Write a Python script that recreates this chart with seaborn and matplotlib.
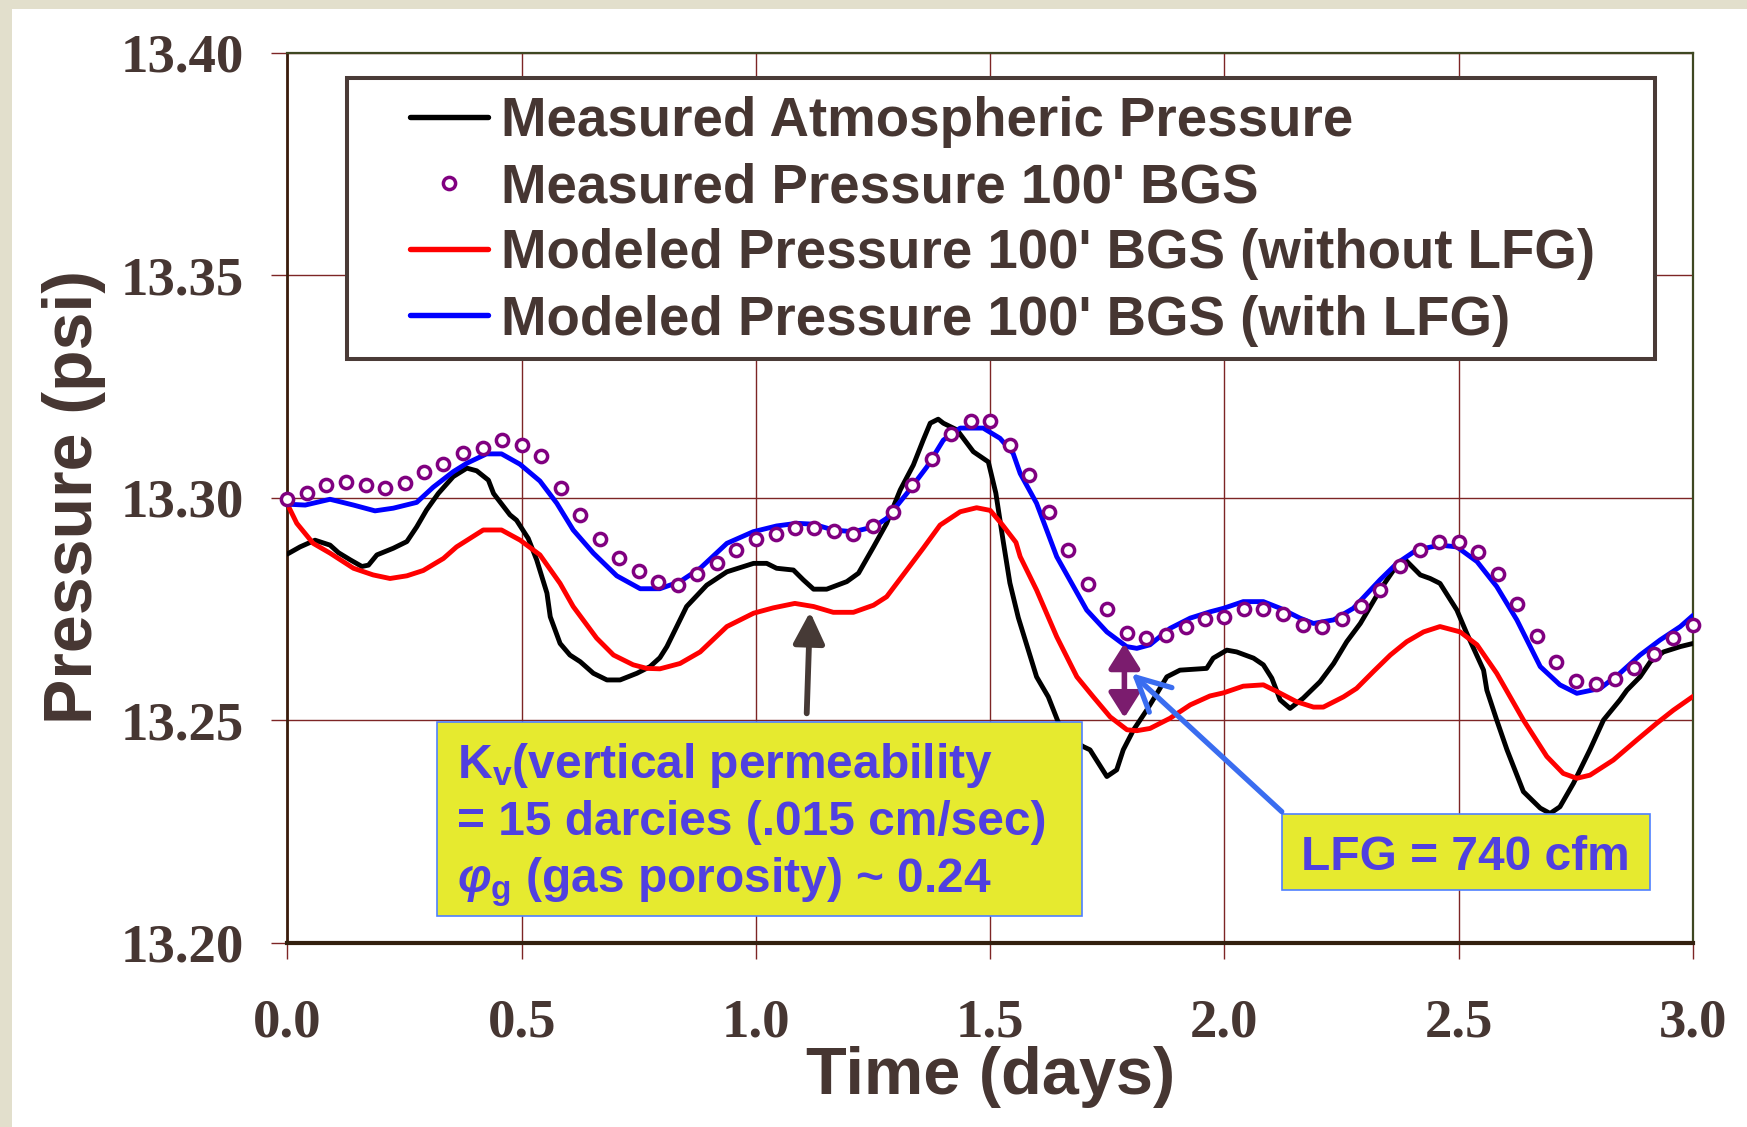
import matplotlib
matplotlib.use("Agg")
import matplotlib.pyplot as plt
import seaborn as sns
import numpy as np
import pandas as pd
from matplotlib.patches import Rectangle, FancyArrowPatch
from matplotlib.ticker import FormatStrFormatter

# ---------------- data ----------------
atm_t = [0.000, 0.027, 0.059, 0.091, 0.109, 0.134, 0.159, 0.173, 0.191, 0.226, 0.255, 0.276,
         0.297, 0.322, 0.354, 0.383, 0.404, 0.429, 0.440, 0.475, 0.489, 0.514, 0.532, 0.554,
         0.561, 0.582, 0.603, 0.625, 0.653, 0.682, 0.710, 0.746, 0.774, 0.795, 0.810, 0.852,
         0.895, 0.938, 0.995, 1.023, 1.044, 1.080, 1.101, 1.123, 1.151, 1.194, 1.219, 1.251,
         1.279, 1.308, 1.336, 1.357, 1.372, 1.389, 1.400, 1.429, 1.464, 1.496, 1.512, 1.528,
         1.542, 1.560, 1.599, 1.624, 1.646, 1.675, 1.699, 1.713, 1.749, 1.770, 1.784, 1.806,
         1.834, 1.856, 1.877, 1.905, 1.962, 1.976, 2.005, 2.026, 2.062, 2.083, 2.101, 2.119,
         2.140, 2.168, 2.204, 2.233, 2.261, 2.290, 2.332, 2.361, 2.386, 2.418, 2.439, 2.460,
         2.496, 2.517, 2.553, 2.560, 2.581, 2.603, 2.638, 2.674, 2.695, 2.716, 2.745, 2.780,
         2.809, 2.844, 2.859, 2.887, 2.909, 2.937, 2.973, 3.000]
atm_p = [13.2873, 13.2889, 13.2904, 13.2893, 13.2876, 13.2860, 13.2845, 13.2848, 13.2871, 13.2886, 13.2901, 13.2934,
         13.2972, 13.3009, 13.3047, 13.3066, 13.3060, 13.3039, 13.3009, 13.2961, 13.2949, 13.2908, 13.2860, 13.2785,
         13.2732, 13.2672, 13.2646, 13.2631, 13.2605, 13.2590, 13.2590, 13.2605, 13.2620, 13.2640, 13.2665, 13.2755,
         13.2803, 13.2833, 13.2852, 13.2852, 13.2841, 13.2837, 13.2815, 13.2794, 13.2794, 13.2811, 13.2830, 13.2889,
         13.2942, 13.3017, 13.3073, 13.3129, 13.3167, 13.3176, 13.3167, 13.3152, 13.3103, 13.3080, 13.3010, 13.2900,
         13.2808, 13.2730, 13.2597, 13.2552, 13.2493, 13.2455, 13.2440, 13.2433, 13.2373, 13.2388, 13.2433, 13.2478,
         13.2522, 13.2560, 13.2597, 13.2612, 13.2616, 13.2639, 13.2657, 13.2653, 13.2639, 13.2624, 13.2594, 13.2545,
         13.2526, 13.2549, 13.2586, 13.2627, 13.2676, 13.2717, 13.2792, 13.2837, 13.2860, 13.2826, 13.2818, 13.2807,
         13.2747, 13.2695, 13.2612, 13.2567, 13.2500, 13.2433, 13.2339, 13.2302, 13.2290, 13.2305, 13.2358, 13.2433,
         13.2500, 13.2545, 13.2567, 13.2597, 13.2631, 13.2653, 13.2665, 13.2672]

bgs_t = [0.000, 0.042, 0.083, 0.125, 0.167, 0.208, 0.250, 0.292, 0.333, 0.375, 0.417, 0.458,
         0.500, 0.542, 0.583, 0.625, 0.667, 0.708, 0.750, 0.792, 0.833, 0.875, 0.917, 0.958,
         1.000, 1.042, 1.083, 1.125, 1.167, 1.208, 1.250, 1.292, 1.333, 1.375, 1.417, 1.458,
         1.500, 1.542, 1.583, 1.625, 1.667, 1.708, 1.750, 1.792, 1.833, 1.875, 1.917, 1.958,
         2.000, 2.042, 2.083, 2.125, 2.167, 2.208, 2.250, 2.292, 2.333, 2.375, 2.417, 2.458,
         2.500, 2.542, 2.583, 2.625, 2.667, 2.708, 2.750, 2.792, 2.833, 2.875, 2.917, 2.958, 3.000]
bgs_p = [13.2997, 13.3009, 13.3027, 13.3034, 13.3027, 13.3021, 13.3033, 13.3058, 13.3075, 13.3099, 13.3112, 13.3129,
         13.3117, 13.3094, 13.3021, 13.2961, 13.2907, 13.2865, 13.2834, 13.2810, 13.2804, 13.2828, 13.2853, 13.2882,
         13.2907, 13.2919, 13.2931, 13.2931, 13.2925, 13.2919, 13.2937, 13.2967, 13.3027, 13.3087, 13.3142, 13.3173,
         13.3173, 13.3119, 13.3051, 13.2967, 13.2882, 13.2805, 13.2749, 13.2696, 13.2684, 13.2690, 13.2708, 13.2726,
         13.2731, 13.2749, 13.2749, 13.2738, 13.2713, 13.2708, 13.2726, 13.2756, 13.2792, 13.2846, 13.2882, 13.2901,
         13.2901, 13.2877, 13.2828, 13.2761, 13.2689, 13.2630, 13.2588, 13.2581, 13.2592, 13.2617, 13.2648, 13.2684, 13.2713]

nolfg_t = [0.000, 0.020, 0.055, 0.091, 0.141, 0.183, 0.219, 0.255, 0.290, 0.333, 0.361, 0.397,
           0.418, 0.457, 0.497, 0.539, 0.582, 0.610, 0.660, 0.696, 0.738, 0.767, 0.795, 0.838,
           0.881, 0.938, 0.995, 1.037, 1.083, 1.123, 1.165, 1.208, 1.251, 1.279, 1.322, 1.357,
           1.393, 1.436, 1.471, 1.500, 1.525, 1.555, 1.564, 1.599, 1.642, 1.685, 1.720, 1.756,
           1.792, 1.813, 1.841, 1.884, 1.927, 1.969, 1.998, 2.040, 2.083, 2.112, 2.154, 2.190,
           2.211, 2.254, 2.282, 2.318, 2.354, 2.389, 2.425, 2.460, 2.503, 2.539, 2.581, 2.638,
           2.688, 2.723, 2.752, 2.780, 2.830, 2.880, 2.923, 2.958, 3.000]
nolfg_p = [13.2985, 13.2942, 13.2897, 13.2875, 13.2841, 13.2826, 13.2818, 13.2824, 13.2836, 13.2863, 13.2889, 13.2913,
           13.2927, 13.2927, 13.2904, 13.2871, 13.2807, 13.2755, 13.2684, 13.2646, 13.2624, 13.2616, 13.2615, 13.2627,
           13.2653, 13.2710, 13.2740, 13.2752, 13.2762, 13.2755, 13.2742, 13.2742, 13.2758, 13.2777, 13.2837, 13.2886,
           13.2938, 13.2968, 13.2977, 13.2971, 13.2940, 13.2899, 13.2867, 13.2792, 13.2687, 13.2597, 13.2552, 13.2507,
           13.2478, 13.2476, 13.2481, 13.2504, 13.2534, 13.2554, 13.2561, 13.2576, 13.2579, 13.2564, 13.2541, 13.2529,
           13.2529, 13.2552, 13.2571, 13.2609, 13.2646, 13.2676, 13.2698, 13.2710, 13.2698, 13.2669, 13.2605, 13.2500,
           13.2418, 13.2380, 13.2369, 13.2376, 13.2410, 13.2455, 13.2493, 13.2522, 13.2553]

lfg_t = [0.000, 0.038, 0.091, 0.141, 0.187, 0.226, 0.276, 0.311, 0.354, 0.383, 0.425, 0.457,
         0.496, 0.539, 0.575, 0.610, 0.653, 0.703, 0.753, 0.795, 0.838, 0.881, 0.938, 0.994,
         1.044, 1.087, 1.123, 1.165, 1.208, 1.251, 1.279, 1.322, 1.365, 1.400, 1.436, 1.485,
         1.521, 1.549, 1.564, 1.599, 1.642, 1.706, 1.749, 1.791, 1.813, 1.841, 1.884, 1.927,
         1.969, 1.998, 2.040, 2.083, 2.119, 2.161, 2.190, 2.233, 2.275, 2.332, 2.368, 2.410,
         2.460, 2.496, 2.539, 2.581, 2.624, 2.674, 2.716, 2.752, 2.802, 2.844, 2.887, 2.930,
         2.973, 3.000]
lfg_p = [13.2985, 13.2983, 13.2996, 13.2983, 13.2970, 13.2976, 13.2989, 13.3023, 13.3058, 13.3077, 13.3098, 13.3098,
         13.3075, 13.3037, 13.2987, 13.2927, 13.2875, 13.2824, 13.2795, 13.2795, 13.2811, 13.2841, 13.2897, 13.2923,
         13.2936, 13.2942, 13.2940, 13.2927, 13.2923, 13.2934, 13.2953, 13.3009, 13.3069, 13.3129, 13.3156, 13.3156,
         13.3133, 13.3099, 13.3054, 13.2987, 13.2867, 13.2747, 13.2698, 13.2665, 13.2661, 13.2669, 13.2706, 13.2729,
         13.2743, 13.2751, 13.2766, 13.2766, 13.2751, 13.2729, 13.2717, 13.2725, 13.2751, 13.2815, 13.2852, 13.2882,
         13.2893, 13.2889, 13.2856, 13.2800, 13.2725, 13.2620, 13.2579, 13.2560, 13.2571, 13.2605, 13.2646, 13.2680,
         13.2710, 13.2735]

series_labels = ["Measured Atmospheric Pressure",
                 "Measured Pressure 100' BGS",
                 "Modeled Pressure 100' BGS (without LFG)",
                 "Modeled Pressure 100' BGS (with LFG)"]
x_ticks = [0.0, 0.5, 1.0, 1.5, 2.0, 2.5, 3.0]
y_ticks = [13.20, 13.25, 13.30, 13.35, 13.40]
x_label = "Time (days)"
y_label = "Pressure (psi)"
note_kv = ["K$_\\mathregular{v}$(vertical permeability",
           "= 15 darcies (.015 cm/sec)",
           "$\\varphi_\\mathregular{g}$ (gas porosity) ~ 0.24"]
note_lfg = "LFG = 740 cfm"

# ---------------- style ----------------
sns.set_theme(style="white")
plt.rcParams["font.family"] = ["Liberation Sans", "DejaVu Sans"]
plt.rcParams["mathtext.fontset"] = "custom"
plt.rcParams["mathtext.rm"] = "Liberation Sans:bold"
plt.rcParams["mathtext.it"] = "Liberation Sans:italic:bold"
plt.rcParams["mathtext.bf"] = "Liberation Sans:bold"

W, H = 1747, 1127
TXT = "#463632"
fig = plt.figure(figsize=(W / 100, H / 100), dpi=100, facecolor="#e2dfcc")
fig.add_artist(Rectangle((12 / W, 0), 1, 1 - 9 / H, transform=fig.transFigure,
                         facecolor="white", edgecolor="none", zorder=-10))

ax = fig.add_axes([287.4 / W, (H - 942.5) / H, 1405.6 / W, 890 / H])
ax.set_facecolor("white")

LW = 3.5
sns.lineplot(x=atm_t, y=atm_p, ax=ax, color="black", lw=LW, label=series_labels[0], zorder=3)
sns.lineplot(x=bgs_t, y=bgs_p, ax=ax, color="#800080", marker="o", ls="none", ms=8.8,
             mfc="white", mec="#800080", mew=2.5, label=series_labels[1], zorder=6, clip_on=False)
sns.lineplot(x=nolfg_t, y=nolfg_p, ax=ax, color="#ff0000", lw=LW, label=series_labels[2], zorder=3)
sns.lineplot(x=lfg_t, y=lfg_p, ax=ax, color="#0000ff", lw=LW, label=series_labels[3], zorder=4)

ax.set_xlim(0, 3)
ax.set_ylim(13.2, 13.4)
ax.set_xticks(x_ticks)
ax.set_yticks(y_ticks)
ax.xaxis.set_major_formatter(FormatStrFormatter("%.1f"))
ax.yaxis.set_major_formatter(FormatStrFormatter("%.2f"))
ax.set_axisbelow(True)
ax.grid(True, color="#7d2525", lw=1.0)
ax.tick_params(axis="both", which="major", bottom=True, left=True, direction="out",
               length=11.5, width=1.0, color="#7d2525", labelcolor=TXT)
ax.tick_params(axis="x", pad=29)
ax.tick_params(axis="y", pad=20)
for lab in ax.get_xticklabels() + ax.get_yticklabels():
    lab.set_fontfamily("Liberation Serif")
    lab.set_fontweight("bold")
    lab.set_fontsize(39.5)

for side in ["top", "right"]:
    ax.spines[side].set_color("#3f4822")
    ax.spines[side].set_linewidth(1.6)
ax.spines["left"].set_color("#3a1c0c")
ax.spines["left"].set_linewidth(2.0)
ax.spines["bottom"].set_color("#33200f")
ax.spines["bottom"].set_linewidth(3.0)

ax.set_xlabel(x_label, fontsize=48, fontweight="bold", color=TXT)
ax.set_ylabel(y_label, fontsize=49, fontweight="bold", color=TXT)
ax.xaxis.set_label_coords(0.5, (942.5 - 1094) / 890)
ax.xaxis.label.set_va("baseline")
ax.yaxis.set_label_coords((74 - 287.4) / 1405.6, 0.5)
ax.yaxis.label.set_va("center")

# legend frame + legend
ax.add_patch(Rectangle((346.5 / W, 1 - 358.7 / H), (1655 - 346.5) / W, (358.7 - 78) / H,
                       transform=fig.transFigure, facecolor="white", edgecolor="#4a3b37",
                       lw=2.9, zorder=7))
handles, labels = ax.get_legend_handles_labels()
leg = ax.legend(handles, labels, loc="upper left", bbox_to_anchor=(410 / W, 1 - 96 / H),
                bbox_transform=fig.transFigure, frameon=False, borderpad=0, borderaxespad=0,
                handlelength=1.42, handletextpad=0.24, labelspacing=0.26,
                prop={"family": "Liberation Sans", "weight": "bold", "size": 39.3})
leg.set_zorder(8)
for t in leg.get_texts():
    t.set_color(TXT)
for ln in leg.get_lines():
    if ln.get_linestyle() not in ("None", "none", ""):
        ln.set_linewidth(3.9)

# annotation boxes
YEL = "#e6ea2f"
NOTE = "#5040e0"
ax.add_patch(Rectangle((436.7 / W, 1 - 915.7 / H), 645 / W, 193.8 / H, transform=fig.transFigure,
                       facecolor=YEL, edgecolor="#4f80ff", lw=1.2, zorder=9))
for txt, base in zip(note_kv, [778, 835, 892]):
    ax.text(457 / W, 1 - base / H, txt, transform=fig.transFigure, ha="left", va="baseline",
            fontsize=34.5, fontweight="bold", color=NOTE, zorder=10)
ax.add_patch(Rectangle((1281.5 / W, 1 - 890 / H), 368 / W, 76 / H, transform=fig.transFigure,
                       facecolor=YEL, edgecolor="#4f80ff", lw=1.2, zorder=9))
ax.text(1465 / W, 1 - 870 / H, note_lfg, transform=fig.transFigure, ha="center", va="baseline",
        fontsize=34.5, fontweight="bold", color=NOTE, zorder=10)

# arrows
ax.add_patch(FancyArrowPatch((1.1084, 13.2515), (1.1155, 13.2743),
                             arrowstyle="-|>,head_length=19,head_width=9.5",
                             mutation_scale=1, color="#463a36", lw=4.2,
                             shrinkA=0, shrinkB=0, zorder=10))
ax.add_patch(FancyArrowPatch((1.7864, 13.2505), (1.7864, 13.2672),
                             arrowstyle="<|-|>,head_length=15,head_width=9.5",
                             mutation_scale=1, color="#7b1c6e", lw=4.0,
                             shrinkA=0, shrinkB=0, zorder=10))
ax.add_patch(FancyArrowPatch((2.1223, 13.2294), (1.8021, 13.2605),
                             arrowstyle="->,head_length=24,head_width=12",
                             mutation_scale=1, color="#3a6df0", lw=3.8,
                             shrinkA=0, shrinkB=0, zorder=10))

fig.savefig("out.png", dpi=100, facecolor=fig.get_facecolor())
